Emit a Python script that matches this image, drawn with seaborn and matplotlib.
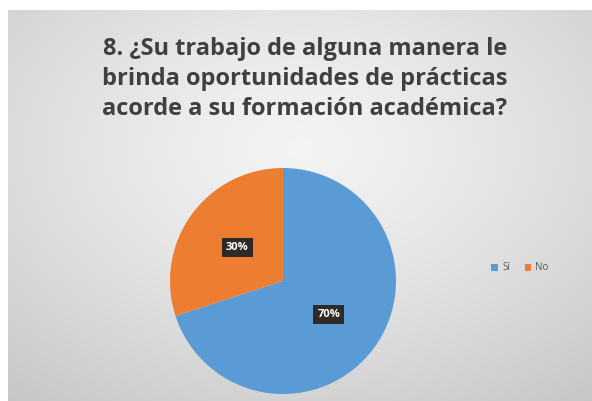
import numpy as np
import matplotlib
matplotlib.use("Agg")
import matplotlib.pyplot as plt
import seaborn as sns

# Data
categories = ["Sí", "No"]
values = [70, 30]
title = "8. ¿Su trabajo de alguna manera le\nbrinda oportunidades de prácticas\nacorde a su formación académica?"

sns.set_theme(style="white")
plt.rcParams['font.family'] = ['Open Sans', 'DejaVu Sans']
colors = ["#5B9BD5", "#ED7D31"]

W, H = 592, 401
fig = plt.figure(figsize=(W / 100, H / 100), dpi=100)
fig.patch.set_facecolor("white")

# Background panel with radial gradient
bg = fig.add_axes([8 / W, -0.01, 1 - 8 / W, 1.01 - 10 / H])
yy, xx = np.mgrid[0:200, 0:300]
cx, cy = 150, 70
d = np.sqrt(((xx - cx) / 300.0) ** 2 + ((yy - cy) / 200.0) ** 2)
d = d / d.max()
g = 0.955 - 0.18 * d ** 1.3
img = np.dstack([g, g, g])
bg.imshow(img, aspect="auto", extent=[0, 1, 0, 1], origin="upper")
bg.set_xlim(0, 1)
bg.set_ylim(0, 1)
bg.set_axis_off()

# Title
fig.text(305 / W, 1 - 79 / H, title, ha="center", va="center",
         fontsize=17, fontweight="bold", color="#404040", linespacing=1.33)

# Pie
r = 113
cxp, cyp = 283, 281
ax = fig.add_axes([(cxp - r) / W, (H - cyp - r) / H, 2 * r / W, 2 * r / H])
wedges, texts, autotexts = ax.pie(
    values, colors=colors, startangle=90, counterclock=False,
    autopct=lambda p: f"{p:.0f}%", pctdistance=0.5,
    wedgeprops=dict(linewidth=0),
    textprops=dict(color="white", fontsize=8, fontweight="bold"))
for t in autotexts:
    t.set_bbox(dict(boxstyle="square,pad=0.35", facecolor="#2f2a26", edgecolor="none"))
ax.set_xlim(-1, 1)
ax.set_ylim(-1, 1)
ax.set_aspect("equal")
ax.set_axis_off()

# Legend
from matplotlib.patches import Patch
handles = [Patch(facecolor=c, edgecolor="none") for c in colors]
fig.legend(handles, categories, loc="center", bbox_to_anchor=(520 / W, 1 - 268 / H),
           ncol=2, frameon=False, fontsize=7, labelcolor="#595959",
           handlelength=0.7, handleheight=0.7, handletextpad=0.4, columnspacing=1.5)

fig.savefig("out.png", dpi=100)
